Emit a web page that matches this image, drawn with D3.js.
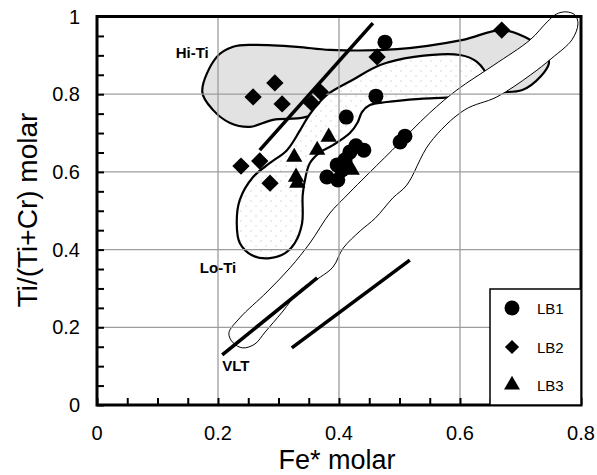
<!DOCTYPE html>
<html>
<head>
<meta charset="utf-8">
<script src="https://cdn.jsdelivr.net/npm/d3@7"></script>
<style>
  html, body { margin: 0; padding: 0; background: #fff; }
  svg { display: block; }
  text { font-family: "Liberation Sans", Arial, Helvetica, sans-serif; fill: #000; }
</style>
</head>
<body>
<svg id="chart" width="597" height="475"></svg>
<script>
// ---- data ----
const xTicks = [0, 0.2, 0.4, 0.6, 0.8];
const yTicks = [0, 0.2, 0.4, 0.6, 0.8, 1];
const xTickLabels = ["0", "0.2", "0.4", "0.6", "0.8"];
const yTickLabels = ["0", "0.2", "0.4", "0.6", "0.8", "1"];

// sample groups: [Fe*, Ti/(Ti+Cr)]
const lb1 = [
  [0.476, 0.934], [0.461, 0.795], [0.412, 0.741], [0.501, 0.677], [0.509, 0.692],
  [0.380, 0.587], [0.398, 0.579], [0.405, 0.605], [0.410, 0.631], [0.418, 0.651],
  [0.428, 0.667], [0.441, 0.656], [0.397, 0.618]
];
const lb2 = [
  [0.258, 0.793], [0.294, 0.829], [0.306, 0.775], [0.369, 0.806], [0.355, 0.777],
  [0.463, 0.896], [0.669, 0.965], [0.238, 0.615], [0.269, 0.628], [0.286, 0.571]
];
const lb3 = [
  [0.326, 0.638], [0.329, 0.587], [0.331, 0.571], [0.364, 0.656], [0.383, 0.690],
  [0.421, 0.605]
];

// compositional fields (outline vertices)
const hiTiField = [
  [0.174, 0.806], [0.198, 0.896], [0.225, 0.922], [0.258, 0.927], [0.331, 0.922],
  [0.385, 0.914], [0.496, 0.916], [0.605, 0.940], [0.669, 0.965], [0.716, 0.940],
  [0.741, 0.909], [0.747, 0.880], [0.734, 0.847], [0.703, 0.811], [0.650, 0.806],
  [0.534, 0.816], [0.402, 0.783], [0.344, 0.741], [0.291, 0.734], [0.253, 0.716],
  [0.220, 0.726], [0.192, 0.759]
];
const loTiField = [
  [0.258, 0.384], [0.236, 0.417], [0.231, 0.468], [0.236, 0.528], [0.258, 0.587],
  [0.286, 0.623], [0.314, 0.656], [0.336, 0.708], [0.352, 0.749], [0.380, 0.798],
  [0.423, 0.837], [0.468, 0.875], [0.524, 0.896], [0.600, 0.901], [0.628, 0.883],
  [0.645, 0.842], [0.633, 0.806], [0.592, 0.793], [0.534, 0.788], [0.479, 0.780],
  [0.451, 0.772], [0.438, 0.754], [0.431, 0.728], [0.418, 0.700], [0.390, 0.669],
  [0.369, 0.651], [0.352, 0.623], [0.345, 0.589], [0.340, 0.541], [0.339, 0.468],
  [0.327, 0.417], [0.311, 0.391], [0.286, 0.378]
];
const vltField = [
  [0.225, 0.160], [0.218, 0.185], [0.236, 0.224], [0.281, 0.291], [0.319, 0.353],
  [0.352, 0.417], [0.385, 0.494], [0.410, 0.535], [0.438, 0.579], [0.488, 0.656],
  [0.550, 0.752], [0.595, 0.811], [0.656, 0.875], [0.716, 0.940], [0.744, 0.986],
  [0.759, 1.006], [0.775, 1.012], [0.790, 1.004], [0.795, 0.981], [0.785, 0.940],
  [0.752, 0.893], [0.716, 0.849], [0.661, 0.793], [0.607, 0.759], [0.550, 0.674],
  [0.512, 0.566], [0.489, 0.533], [0.460, 0.481], [0.435, 0.448], [0.407, 0.404],
  [0.390, 0.355], [0.369, 0.329], [0.336, 0.296], [0.306, 0.239], [0.278, 0.188],
  [0.261, 0.157], [0.241, 0.147]
];

// straight trend lines
const trendLines = [
  [[0.269, 0.656], [0.456, 0.983]],
  [[0.207, 0.129], [0.364, 0.327]],
  [[0.322, 0.147], [0.517, 0.373]]
];

const fieldLabels = [
  { text: "Hi-Ti", x: 0.130, y: 0.893 },
  { text: "Lo-Ti", x: 0.170, y: 0.339 },
  { text: "VLT", x: 0.207, y: 0.088 }
];
const legendItems = ["LB1", "LB2", "LB3"];

// ---- drawing ----
const svg = d3.select("#chart");
const x = d3.scaleLinear().domain([0, 0.8]).range([97, 581]);
const y = d3.scaleLinear().domain([0, 1]).range([405, 16.5]);

const defs = svg.append("defs");
const pat = defs.append("pattern")
  .attr("id", "dots").attr("patternUnits", "userSpaceOnUse")
  .attr("width", 10).attr("height", 10);
pat.append("rect").attr("width", 10).attr("height", 10).attr("fill", "#fff");
pat.append("circle").attr("cx", 1).attr("cy", 1).attr("r", 0.7).attr("fill", "#c8c8c8");
pat.append("circle").attr("cx", 6).attr("cy", 6).attr("r", 0.7).attr("fill", "#c8c8c8");

const outline = d3.line().x(d => x(d[0])).y(d => y(d[1]))
  .curve(d3.curveCatmullRomClosed.alpha(0.5));

// fields
svg.append("path").datum(hiTiField).attr("d", outline)
  .attr("fill", "#e2e2e2").attr("stroke", "#000").attr("stroke-width", 2.2);
svg.append("path").datum(loTiField).attr("d", outline)
  .attr("fill", "url(#dots)").attr("stroke", "#000").attr("stroke-width", 2.2);
svg.append("path").datum(vltField).attr("d", outline)
  .attr("fill", "#fff").attr("stroke", "#000").attr("stroke-width", 1);

// grid
const grid = svg.append("g").attr("stroke", "#9d9d9d").attr("stroke-width", 1.3);
grid.selectAll(".gx").data(xTicks.slice(1, -1)).join("line")
  .attr("x1", d => x(d)).attr("x2", d => x(d)).attr("y1", y(0)).attr("y2", y(1));
grid.selectAll(".gy").data(yTicks.slice(1, -1)).join("line")
  .attr("x1", x(0)).attr("x2", x(0.8)).attr("y1", d => y(d)).attr("y2", d => y(d));

// trend lines
svg.append("g").selectAll("line").data(trendLines).join("line")
  .attr("x1", d => x(d[0][0])).attr("y1", d => y(d[0][1]))
  .attr("x2", d => x(d[1][0])).attr("y2", d => y(d[1][1]))
  .attr("stroke", "#000").attr("stroke-width", 3.6);

// field labels
svg.append("g").selectAll("text").data(fieldLabels).join("text")
  .attr("x", d => x(d.x)).attr("y", d => y(d.y))
  .attr("font-size", 15).attr("font-weight", "bold")
  .text(d => d.text);

// markers
const diamond = d3.symbol().type(d3.symbolSquare).size(150);
const triangle = d3.symbol().type(d3.symbolTriangle).size(115);
const pts = svg.append("g");
pts.selectAll(".c").data(lb1).join("circle")
  .attr("cx", d => x(d[0])).attr("cy", d => y(d[1])).attr("r", 7.5).attr("fill", "#000");
pts.selectAll(".d").data(lb2).join("path")
  .attr("d", diamond)
  .attr("transform", d => `translate(${x(d[0])},${y(d[1])}) rotate(45)`).attr("fill", "#000");
pts.selectAll(".t").data(lb3).join("path")
  .attr("d", triangle)
  .attr("transform", d => `translate(${x(d[0])},${y(d[1])})`).attr("fill", "#000");

// axes: minor ticks every 0.05, labelled majors
const xAxis = d3.axisBottom(x).tickValues(d3.range(0, 0.8001, 0.05)).tickSize(-7).tickFormat("");
const yAxis = d3.axisLeft(y).tickValues(d3.range(0, 1.0001, 0.05)).tickSize(-7).tickFormat("");
const gx = svg.append("g").attr("transform", `translate(0,${y(0)})`).call(xAxis);
const gy = svg.append("g").attr("transform", `translate(${x(0)},0)`).call(yAxis);
[gx, gy].forEach(g => {
  g.select(".domain").remove();
  g.selectAll(".tick line").attr("stroke", "#000").attr("stroke-width", 2);
});

svg.append("g").selectAll("text").data(xTicks).join("text")
  .attr("x", d => x(d)).attr("y", 440).attr("text-anchor", "middle")
  .attr("font-size", 20).text((d, i) => xTickLabels[i]);
svg.append("g").selectAll("text").data(yTicks).join("text")
  .attr("x", 80).attr("y", d => y(d) + 7).attr("text-anchor", "end")
  .attr("font-size", 20).text((d, i) => yTickLabels[i]);

// frame
svg.append("rect").attr("x", x(0)).attr("y", y(1))
  .attr("width", x(0.8) - x(0)).attr("height", y(0) - y(1))
  .attr("fill", "none").attr("stroke", "#000").attr("stroke-width", 3);

// legend
const lg = svg.append("g");
lg.append("rect").attr("x", 490).attr("y", 289).attr("width", x(0.8) - 490).attr("height", y(0) - 289)
  .attr("fill", "#fff").attr("stroke", "#000").attr("stroke-width", 1.5);
const ly = [308, 347, 385];
lg.append("circle").attr("cx", 512).attr("cy", ly[0]).attr("r", 7.5);
lg.append("path").attr("d", d3.symbol().type(d3.symbolSquare).size(100))
  .attr("transform", `translate(512,${ly[1]}) rotate(45)`);
lg.append("path").attr("d", d3.symbol().type(d3.symbolTriangle).size(110))
  .attr("transform", `translate(512,${ly[2]})`);
lg.selectAll("text").data(legendItems).join("text")
  .attr("x", 537).attr("y", (d, i) => ly[i] + 5.5)
  .attr("font-size", 15).text(d => d);

// axis titles
svg.append("text").attr("x", 337).attr("y", 469).attr("text-anchor", "middle")
  .attr("font-size", 27).text("Fe* molar");
svg.append("text").attr("transform", "translate(37,210) rotate(-90)")
  .attr("text-anchor", "middle").attr("font-size", 28).text("Ti/(Ti+Cr) molar");
</script>
</body>
</html>
